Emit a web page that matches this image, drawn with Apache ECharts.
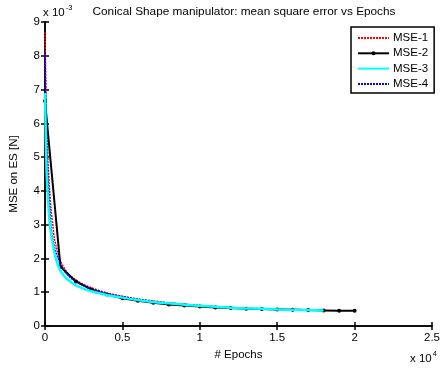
<!DOCTYPE html>
<html><head><meta charset="utf-8">
<script src="https://cdn.jsdelivr.net/npm/echarts@6/dist/echarts.min.js"></script>
<style>html,body{margin:0;padding:0;background:#fff}#c{width:443px;height:368px}</style>
</head><body><div id="c"></div>
<script>
// Values in units of 1e-3
const epochsSmooth = [0, 100, 200, 300, 400, 500, 600, 700, 800, 900, 1000, 1200, 1500, 2000, 2500, 3000, 4000, 5000, 6000, 7000, 8000, 9000, 10000, 11000, 12000, 13000, 14000, 15000, 16000, 17000, 18000];
const mse1 = [8.7, 6.0, 4.8, 4.0, 3.4, 3.0, 2.6, 2.4, 2.22, 2.05, 1.92, 1.75, 1.55, 1.36, 1.23, 1.13, 0.98, 0.88, 0.80, 0.74, 0.69, 0.65, 0.61, 0.58, 0.55, 0.53, 0.51, 0.50, 0.49, 0.48, 0.47];
const mse4 = [8.1, 5.5, 4.3, 3.5, 2.85, 2.55, 2.35, 2.2, 2.05, 1.93, 1.82, 1.66, 1.49, 1.31, 1.19, 1.10, 0.96, 0.87, 0.79, 0.73, 0.68, 0.64, 0.60, 0.57, 0.54, 0.52, 0.50, 0.49, 0.48, 0.47, 0.46];
const mse3 = [6.9, 4.6, 3.7, 3.05, 2.7, 2.45, 2.2, 2.0, 1.85, 1.73, 1.63, 1.50, 1.36, 1.20, 1.10, 1.03, 0.92, 0.84, 0.77, 0.71, 0.67, 0.63, 0.60, 0.57, 0.54, 0.52, 0.51, 0.49, 0.48, 0.47, 0.46];
const epochs2 = [0, 1000, 2000, 3000, 4000, 5000, 6000, 7000, 8000, 9000, 10000, 11000, 12000, 13000, 14000, 15000, 16000, 17000, 18000, 19000, 20000];
const mse2 = [6.66, 1.75, 1.32, 1.08, 0.93, 0.82, 0.75, 0.69, 0.64, 0.61, 0.58, 0.55, 0.53, 0.51, 0.50, 0.49, 0.48, 0.47, 0.46, 0.45, 0.45];
const seriesNames = ['MSE-1', 'MSE-2', 'MSE-3', 'MSE-4'];
const xTicks = [0, 0.5, 1, 1.5, 2, 2.5];
const yTicks = [0, 1, 2, 3, 4, 5, 6, 7, 8, 9];

const FONT = '"Liberation Sans", Arial, sans-serif';
const FS = 11.5;
const zip = (xs, ys) => xs.map((x, i) => [x, ys[i]]);

const chart = echarts.init(document.getElementById('c'), null, {renderer: 'canvas'});
const axisCommon = {
  axisLine: {show: true, lineStyle: {color: '#000', width: 1.5}},
  axisTick: {show: true, inside: true, length: 4, lineStyle: {color: '#000', width: 1.5}},
  splitLine: {show: false}
};
const sup = {
  a: {fontSize: FS, fontFamily: FONT, fill: '#000', verticalAlign: 'bottom'},
  s: {fontSize: 7.5, fontFamily: FONT, fill: '#000', verticalAlign: 'top', padding: [0, 0, 7, 1]}
};
chart.setOption({
  animation: false,
  backgroundColor: '#fff',
  textStyle: {fontFamily: FONT},
  title: {
    text: 'Conical Shape manipulator: mean square error vs Epochs',
    left: 239, top: 1, textAlign: 'center',
    textStyle: {fontSize: 11.8, fontWeight: 'normal', color: '#000', fontFamily: FONT}
  },
  grid: {left: 42, right: 6, top: 22, bottom: 42, containLabel: false},
  legend: {
    data: seriesNames.map(n => n === 'MSE-2' ? {name: n} : {name: n, itemStyle: {opacity: 0}}),
    orient: 'vertical', left: 351, top: 27,
    backgroundColor: '#fff', borderColor: '#000', borderWidth: 1.5, borderRadius: 0,
    padding: [5, 6, 3, 6], itemGap: 3.3, itemWidth: 31, itemHeight: 5,
    textStyle: {fontSize: FS, color: '#000', fontFamily: FONT, padding: [0, 0, 0, -1]}
  },
  xAxis: [
    Object.assign({type: 'value', min: 0, max: 25000, interval: 5000, position: 'bottom',
      axisLabel: {color: '#000', fontSize: FS, margin: 6, fontFamily: FONT,
        formatter: v => { const i = Math.round(v / 5000); return String(xTicks[i]); }},
      name: '# Epochs', nameLocation: 'middle', nameGap: 22,
      nameTextStyle: {color: '#000', fontSize: FS, fontFamily: FONT}}, axisCommon),
    Object.assign({type: 'value', min: 0, max: 25000, interval: 5000, position: 'top',
      axisLabel: {show: false}}, axisCommon)
  ],
  yAxis: [
    Object.assign({type: 'value', min: 0, max: 9, interval: 1, position: 'left',
      axisLabel: {color: '#000', fontSize: FS, margin: 5, fontFamily: FONT,
        formatter: v => String(yTicks[Math.round(v)])},
      name: 'MSE on ES [N]', nameLocation: 'middle', nameGap: 25, nameRotate: 90,
      nameTextStyle: {color: '#000', fontSize: FS, fontFamily: FONT}}, axisCommon),
    Object.assign({type: 'value', min: 0, max: 9, interval: 1, position: 'right',
      axisLabel: {show: false}}, axisCommon)
  ],
  graphic: [
    {type: 'text', left: 43, top: 4, style: {text: '{a|x 10}{s|-3}', fill: '#000', rich: sup}},
    {type: 'text', left: 410, top: 350, style: {text: '{a|x 10}{s|4}', fill: '#000', rich: sup}}
  ],
  series: [
    {name: 'MSE-1', type: 'line', data: zip(epochsSmooth, mse1), symbol: 'none', smooth: 0.3, z: 2,
      lineStyle: {color: '#ff0000', width: 1.5, type: [2, 1]}, itemStyle: {color: '#ff0000'}},
    {name: 'MSE-2', type: 'line', data: zip(epochs2, mse2), symbol: 'circle', symbolSize: 4, z: 3,
      lineStyle: {color: '#000', width: 2}, itemStyle: {color: '#000'}},
    {name: 'MSE-3', type: 'line', data: zip(epochsSmooth, mse3), symbol: 'none', smooth: 0.3, z: 4,
      lineStyle: {color: '#00ffff', width: 2.5}, itemStyle: {color: '#00ffff'}},
    {name: 'MSE-4', type: 'line', data: zip(epochsSmooth, mse4), symbol: 'none', smooth: 0.3, z: 3,
      lineStyle: {color: '#0000ff', width: 1.5, type: [2, 1]}, itemStyle: {color: '#0000ff'}}
  ]
});
</script></body></html>
